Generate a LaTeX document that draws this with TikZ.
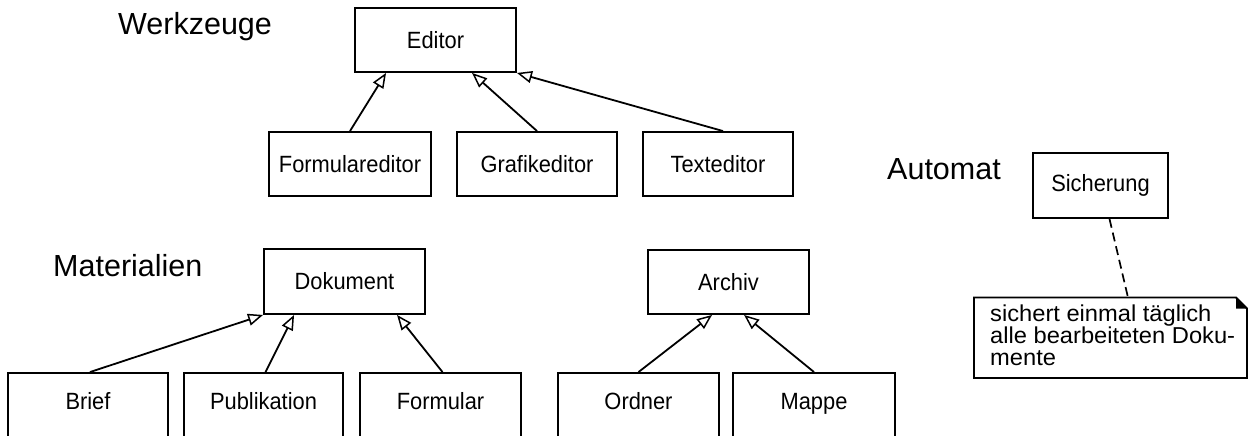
\documentclass[tikz,border=0pt]{standalone}
\usepackage{fontspec}
\setmainfont{Liberation Sans}
\newfontfamily\boxfont[FakeStretch=0.93]{Liberation Sans}
\newfontfamily\headfont{Liberation Sans}
\newfontfamily\notefont[FakeStretch=1.03]{Liberation Sans}
\usetikzlibrary{arrows.meta,calc}
\begin{document}
\begin{tikzpicture}[x=1pt,y=-1pt,
  box/.style={draw, line width=1.9pt, inner sep=0pt, minimum height=64pt, font=\boxfont\fontsize{23.5}{28}\selectfont},
  lowbox/.style={box, minimum height=68pt, text depth=12pt},
  header/.style={anchor=base west, inner sep=0pt, font=\headfont\fontsize{30.5}{34}\selectfont},
  inherit/.style={line width=1.8pt, -{Triangle[open, length=15pt, width=12pt, fill=white, line width=1.5pt]}},
  notelink/.style={line width=1.7pt, dash pattern=on 9pt off 5pt},
  noteline/.style={line width=1.9pt}
]
\useasboundingbox (0,0) rectangle (1252,436);
\clip (0,0) rectangle (1252,436);

% headers
\node[header] (hw) at (118,35) {Werkzeuge};
\node[header] (hm) at (53,276) {Materialien};
\node[header] (ha) at (887,179) {Automat};

% Werkzeuge
\node[box, minimum width=161pt] (ed) at (435.5,40) {Editor};
\node[box, minimum width=162pt] (fe) at (350,164) {Formulareditor};
\node[box, minimum width=160pt] (ge) at (537,164) {Grafikeditor};
\node[box, minimum width=150pt] (te) at (718,164) {Texteditor};

\draw[inherit] (fe.north) -- ($(ed.south west)+(32,0)$);
\draw[inherit] (ge.north) -- ($(ed.south west)+(118,0)$);
\draw[inherit] ($(te.north)+(5,0)$) -- (ed.south east);

% Materialien
\node[box, minimum width=161pt, minimum height=65pt] (dok) at (344.5,281.5) {Dokument};
\node[lowbox, minimum width=160pt] (brief) at (88,407) {Brief};
\node[lowbox, minimum width=159pt] (pub) at (263.5,407) {Publikation};
\node[lowbox, minimum width=161pt] (form) at (440.5,407) {Formular};

\draw[inherit] ($(brief.north)+(2,0)$) -- (dok.south west);
\draw[inherit] ($(pub.north)+(2,0)$) -- ($(dok.south west)+(31,0)$);
\draw[inherit] ($(form.north)+(2,0)$) -- ($(dok.south west)+(134,0)$);

% Archiv
\node[box, minimum width=161pt] (arc) at (728.5,282) {Archiv};
\node[lowbox, minimum width=161pt] (ord) at (638.5,407) {Ordner};
\node[lowbox, minimum width=162pt] (map) at (814,407) {Mappe};

\draw[inherit] (ord.north) -- ($(arc.south west)+(65,0)$);
\draw[inherit] (map.north) -- ($(arc.south west)+(97,0)$);

% Automat
\node[box, minimum width=135pt, minimum height=65pt] (sich) at (1100.5,185.5) {Sicherung};
\coordinate (nt) at (1128,297.5);
\draw[noteline] (974,297.5) -- (1236,297.5) -- (1247,308.5) -- (1247,378) -- (974,378) -- cycle;
\fill (1236,297.5) -- (1236,308.5) -- (1247,308.5) -- cycle;
\node[anchor=north west, inner sep=0pt, align=left, font=\notefont\fontsize{23}{22}\selectfont] (notetext) at (990,304.5)
  {sichert einmal täglich\\alle bearbeiteten Doku-\\mente};
\draw[notelink] ($(sich.south)+(9,0)$) -- (nt);
\end{tikzpicture}
\end{document}
